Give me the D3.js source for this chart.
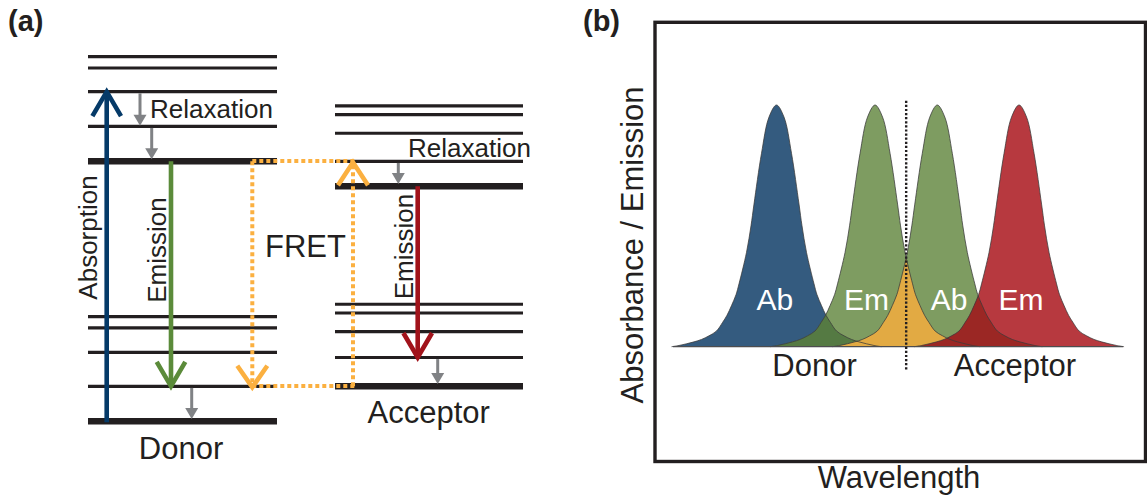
<!DOCTYPE html>
<html><head><meta charset="utf-8">
<script src="https://cdn.jsdelivr.net/npm/d3@7"></script>
<style>
html,body{margin:0;padding:0;background:#fff;}
svg{display:block;}
text{font-family:"Liberation Sans",Arial,Helvetica,sans-serif;fill:#231f20;}
</style></head><body>
<svg id="chart" width="1147" height="499"></svg>
<script>
// ---------------- DATA ----------------
// (a) Jablonski diagram: energy levels (arbitrary energy units, donor ground = 0)
const donorLevels = [0, 9.6, 18.9, 25.6, 28.7, 71.3, 80.9, 90.4, 96.9, 100];
const donorThickLevels = [0, 71.3];
const acceptorLevels = [9.6, 17.5, 24.6, 29.7, 32.1, 64.5, 71.3, 79.0, 84.1, 86.5];
const acceptorThickLevels = [9.6, 64.5];

// transitions (from level -> to level)
const arrowKinds = ["absorption", "relax", "relax", "emission", "relax", "fret", "fret", "relax", "emission", "relax"];
const arrowFrom  = [0,    90.4, 80.9, 71.3, 9.6, 71.3, 9.6,  71.3, 64.5, 17.5];
const arrowTo    = [90.4, 80.9, 71.3, 9.6,  0,   9.6,  71.3, 64.5, 17.5, 9.6];

// (b) spectra: band peaks (nm) and shared band profile
const bandNames  = ["Donor absorption", "Donor emission", "Acceptor absorption", "Acceptor emission"];
const bandLabels = ["Ab", "Em", "Ab", "Em"];
const bandPeaks  = [469, 534.7, 576.2, 630.7];
const profileOffsets = [0, 5, 10, 15, 17, 20, 25, 27, 30, 33, 36, 40, 45, 50, 55, 60, 65, 70];
const profileValues  = [1.00, 0.95, 0.80, 0.59, 0.50, 0.39, 0.26, 0.215, 0.17, 0.13, 0.10, 0.065, 0.045, 0.03, 0.02, 0.012, 0.005, 0];
const groupLabels = ["Donor", "Acceptor"];

// ---------------- LAYOUT / STYLE ----------------
const ink = "#231f20";
const svg = d3.select("#chart");
const defs = svg.append("defs");

// ===== Panel (a) =====
svg.append("text").attr("x", 8).attr("y", 31).attr("font-size", 29).attr("font-weight", "bold").text("(a)");

const yE = d3.scaleLinear().domain([0, 100]).range([421.3, 56.7]);
const xDonor = [88, 277], xAcc = [335, 523];
const thin = 3.2, thick = 6.5;

function drawLevels(levels, thickLv, xr) {
  svg.append("g").selectAll("line").data(levels).join("line")
    .attr("x1", xr[0]).attr("x2", xr[1])
    .attr("y1", d => yE(d)).attr("y2", d => yE(d))
    .attr("stroke", ink)
    .attr("stroke-width", d => thickLv.includes(d) ? thick : thin);
}
drawLevels(donorLevels, donorThickLevels, xDonor);
drawLevels(acceptorLevels, acceptorThickLevels, xAcc);

const arrowX = [106.7, 140, 151.7, 171, 191.7, 252.3, 353, 398.3, 417.7, 437.7];
const arrowColor = ["#053a68", "#808285", "#808285", "#5b8b3a", "#808285", "#fbb040", "#fbb040", "#808285", "#a1131b", "#808285"];
const gA = svg.append("g");

function isThick(v) { return donorThickLevels.includes(v) || acceptorThickLevels.includes(v); }

function chevron(x, tipY, dir, dx, dy, color) {
  // dir = -1 upward pointing, +1 downward pointing
  gA.append("polyline")
    .attr("points", `${x - dx},${tipY - dir * dy} ${x},${tipY} ${x + dx},${tipY - dir * dy}`)
    .attr("fill", "none").attr("stroke", color).attr("stroke-width", 4.6)
    .attr("stroke-linejoin", "miter").attr("stroke-miterlimit", 10);
}

// FRET connectors (dotted horizontals)
const fretIdx = arrowKinds.map((k, i) => k === "fret" ? i : -1).filter(i => i >= 0);
const fx0 = arrowX[fretIdx[0]], fx1 = arrowX[fretIdx[1]];
[arrowFrom[fretIdx[0]], arrowTo[fretIdx[0]]].forEach(lv => {
  gA.append("line").attr("x1", fx0).attr("x2", fx1 + 2).attr("y1", yE(lv) - 0.3).attr("y2", yE(lv) - 0.3)
    .attr("stroke", "#fbb040").attr("stroke-width", 4).attr("stroke-dasharray", "4 3");
});

arrowKinds.forEach((k, i) => {
  const x = arrowX[i], c = arrowColor[i];
  const y0 = yE(arrowFrom[i]), y1 = yE(arrowTo[i]);
  const dir = y1 > y0 ? 1 : -1;
  if (k === "relax") {
    const tip = y1 - (isThick(arrowTo[i]) ? 2.2 : 0.6);
    gA.append("line").attr("x1", x).attr("x2", x).attr("y1", y0 + 1.6).attr("y2", tip - 9)
      .attr("stroke", c).attr("stroke-width", 3);
    gA.append("path").attr("d", `M${x - 6.5},${tip - 11}L${x + 6.5},${tip - 11}L${x},${tip}Z`).attr("fill", c);
  } else if (k === "fret") {
    gA.append("line").attr("x1", x).attr("x2", x).attr("y1", y0).attr("y2", y1)
      .attr("stroke", c).attr("stroke-width", 4).attr("stroke-dasharray", "4 3");
    if (dir > 0) chevron(x, y1 + 1, 1, 15, 21.5, c);
    else chevron(x, y1 + 1, -1, 15, 23, c);
  } else {
    const start = k === "absorption" ? y0 + 1 : y0;
    gA.append("line").attr("x1", x).attr("x2", x).attr("y1", start).attr("y2", y1 - dir * 2)
      .attr("stroke", c).attr("stroke-width", 4.6);
    chevron(x, y1, dir, 14.3, 24.5, c);
  }
});

// labels (a)
const fsSmall = 26, fsBig = 31;
svg.append("text").attr("x", 150).attr("y", 118).attr("font-size", fsSmall).text("Relaxation");
svg.append("text").attr("x", 408).attr("y", 156.7).attr("font-size", fsSmall).text("Relaxation");
svg.append("text").attr("transform", "translate(97,237.5) rotate(-90)").attr("text-anchor", "middle")
  .attr("font-size", fsSmall).text("Absorption");
svg.append("text").attr("transform", "translate(166,250) rotate(-90)").attr("text-anchor", "middle")
  .attr("font-size", fsSmall).text("Emission");
svg.append("text").attr("transform", "translate(413,246.5) rotate(-90)").attr("text-anchor", "middle")
  .attr("font-size", fsSmall).text("Emission");
svg.append("text").attr("x", 265).attr("y", 257).attr("font-size", fsBig).text("FRET");
svg.append("text").attr("x", 181).attr("y", 459).attr("text-anchor", "middle").attr("font-size", fsBig).text(groupLabels[0]);
svg.append("text").attr("x", 428.7).attr("y", 423).attr("text-anchor", "middle").attr("font-size", fsBig).text(groupLabels[1]);

// ===== Panel (b) =====
svg.append("text").attr("x", 583).attr("y", 31).attr("font-size", 29).attr("font-weight", "bold").text("(b)");
svg.append("rect").attr("x", 655).attr("y", 22.3).attr("width", 490.5).attr("height", 439.2)
  .attr("fill", "none").attr("stroke", ink).attr("stroke-width", 3.4);

const xW = d3.scaleLinear().domain([400, 700]).range([673, 1123]);
const yA = d3.scaleLinear().domain([0, 1]).range([346.7, 105]);

const offsFull = profileOffsets.slice(1).reverse().map(o => -o).concat(profileOffsets);
const valsFull = profileValues.slice(1).reverse().concat(profileValues);
const bands = bandPeaks.map(p => offsFull.map((o, i) => ({ w: p + o, v: valsFull[i] })));

const area = d3.area().x(d => xW(d.w)).y0(yA(0)).y1(d => yA(d.v)).curve(d3.curveCatmullRom.alpha(0.5));
const line = d3.line().x(d => xW(d.w)).y(d => yA(d.v)).curve(d3.curveCatmullRom.alpha(0.5));

bands.forEach((b, i) => {
  defs.append("clipPath").attr("id", "bandclip" + i).append("path").attr("d", area(b));
});

const bandFill = ["#345b7f", "#7e9c61", "#7e9c61", "#b7393f"];
const overlapFill = ["#557a43", "#e2aa43", "#9b2724"];
const gS = svg.append("g");
bands.forEach((b, i) => gS.append("path").attr("d", area(b)).attr("fill", bandFill[i]));
for (let i = 0; i < bands.length - 1; i++) {
  gS.append("path").attr("d", area(bands[i + 1])).attr("clip-path", `url(#bandclip${i})`).attr("fill", overlapFill[i]);
}
bands.forEach((b, i) => gS.append("path").attr("d", line(b)).attr("fill", "none")
  .attr("stroke", "#3a3a3a").attr("stroke-width", 0.9).attr("stroke-opacity", 0.85));

// baseline
gS.append("line").attr("x1", xW(400)).attr("x2", xW(700)).attr("y1", yA(0)).attr("y2", yA(0))
  .attr("stroke", "#4d4d4f").attr("stroke-width", 1.3);

// dotted separator at donor-emission / acceptor-absorption crossing
const xCross = xW((bandPeaks[1] + bandPeaks[2]) / 2);
gS.append("line").attr("x1", xCross).attr("x2", xCross).attr("y1", 100.7).attr("y2", 370)
  .attr("stroke", ink).attr("stroke-width", 2.4).attr("stroke-dasharray", "2.2 1.9");

// band labels
const labelShift = [-1.7, -8.5, 11.7, 2];
bands.forEach((b, i) => {
  svg.append("text").attr("x", xW(bandPeaks[i]) + labelShift[i]).attr("y", 310)
    .attr("text-anchor", "middle").attr("font-size", 30).style("fill", "#ffffff").text(bandLabels[i]);
});

svg.append("text").attr("x", 814.5).attr("y", 376).attr("text-anchor", "middle").attr("font-size", fsBig).text(groupLabels[0]);
svg.append("text").attr("x", 1015).attr("y", 376).attr("text-anchor", "middle").attr("font-size", fsBig).text(groupLabels[1]);
svg.append("text").attr("transform", "translate(643,245) rotate(-90)").attr("text-anchor", "middle")
  .attr("font-size", fsBig).text("Absorbance / Emission");
svg.append("text").attr("x", 899).attr("y", 488).attr("text-anchor", "middle").attr("font-size", fsBig).text("Wavelength");
</script></body></html>
